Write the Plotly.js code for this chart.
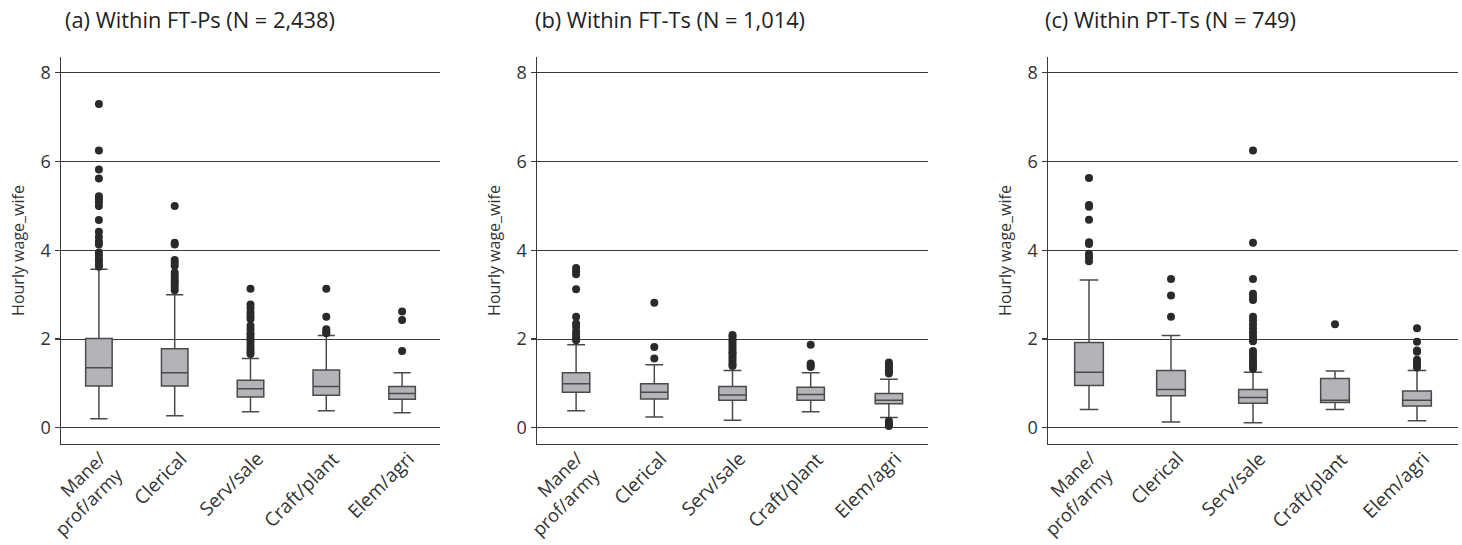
<!DOCTYPE html>
<html><head><meta charset="utf-8">
<script src="https://cdn.plot.ly/plotly-3.0.1.min.js"></script>
<style>html,body{margin:0;padding:0;background:#fff}#chart{width:1462px;height:545px}</style>
</head><body><div id="chart"></div>
<script>
// ---------- data ----------
const categories = ["Mane/<br>prof/army", "Clerical", "Serv/sale", "Craft/plant", "Elem/agri"];
const panelTitles = ["(a) Within FT-Ps (N = 2,438)", "(b) Within FT-Ts (N = 1,014)", "(c) Within PT-Ts (N = 749)"];
const yTitle = "Hourly wage_wife";
const yTicks = [0, 2, 4, 6, 8];

// (a) FT-Ps
const a_lowerfence = [0.20, 0.27, 0.36, 0.38, 0.34];
const a_q1         = [0.94, 0.94, 0.69, 0.73, 0.64];
const a_median     = [1.35, 1.24, 0.88, 0.93, 0.77];
const a_q3         = [2.01, 1.78, 1.07, 1.30, 0.93];
const a_upperfence = [3.57, 3.00, 1.56, 2.08, 1.24];
const a_out_mane   = [7.30, 6.25, 5.82, 5.62, 5.22, 5.15, 5.08, 5.00, 4.68, 4.42, 4.30, 4.20, 4.13, 3.95, 3.88, 3.80, 3.74, 3.68, 3.63];
const a_out_cler   = [5.00, 4.17, 4.13, 3.78, 3.72, 3.65, 3.50, 3.43, 3.36, 3.30, 3.24, 3.17, 3.10];
const a_out_serv   = [3.13, 2.78, 2.70, 2.60, 2.52, 2.45, 2.30, 2.22, 2.13, 2.07, 2.00, 1.93, 1.85, 1.78, 1.72, 1.66];
const a_out_craft  = [3.13, 2.50, 2.22, 2.16, 2.13];
const a_out_elem   = [2.62, 2.43, 1.73];

// (b) FT-Ts
const b_lowerfence = [0.38, 0.24, 0.17, 0.36, 0.23];
const b_q1         = [0.80, 0.65, 0.62, 0.62, 0.54];
const b_median     = [0.99, 0.80, 0.74, 0.75, 0.62];
const b_q3         = [1.24, 0.99, 0.93, 0.91, 0.77];
const b_upperfence = [1.87, 1.42, 1.29, 1.24, 1.09];
const b_out_mane   = [3.60, 3.53, 3.46, 3.12, 2.50, 2.35, 2.27, 2.17, 2.10, 2.03, 1.97];
const b_out_cler   = [2.82, 1.82, 1.56];
const b_out_serv   = [2.09, 2.05, 1.98, 1.93, 1.87, 1.82, 1.76, 1.70, 1.66, 1.60, 1.55, 1.49, 1.43, 1.39];
const b_out_craft  = [1.87, 1.45, 1.41, 1.37];
const b_out_elem   = [1.47, 1.42, 1.37, 1.32, 1.27, 1.22, 0.15, 0.11, 0.07, 0.04];

// (c) PT-Ts
const c_lowerfence = [0.41, 0.13, 0.11, 0.41, 0.16];
const c_q1         = [0.95, 0.72, 0.55, 0.57, 0.49];
const c_median     = [1.25, 0.86, 0.68, 0.62, 0.62];
const c_q3         = [1.92, 1.29, 0.86, 1.11, 0.83];
const c_upperfence = [3.33, 2.08, 1.25, 1.28, 1.29];
const c_out_mane   = [5.63, 5.02, 4.98, 4.69, 4.18, 4.14, 3.92, 3.84, 3.75];
const c_out_cler   = [3.35, 2.98, 2.50];
const c_out_serv   = [6.25, 4.17, 3.35, 3.02, 2.95, 2.88, 2.50, 2.42, 2.33, 2.24, 2.15, 2.07, 2.00, 1.95, 1.73, 1.66, 1.60, 1.52, 1.45, 1.39, 1.33];
const c_out_craft  = [2.33];
const c_out_elem   = [2.24, 1.94, 1.74, 1.71, 1.53, 1.47, 1.42, 1.36];

// ---------- build ----------
const FONT = "'Open Sans', Lato, sans-serif";
const panels = [
  {lf: a_lowerfence, q1: a_q1, med: a_median, q3: a_q3, uf: a_upperfence,
   out: [a_out_mane, a_out_cler, a_out_serv, a_out_craft, a_out_elem]},
  {lf: b_lowerfence, q1: b_q1, med: b_median, q3: b_q3, uf: b_upperfence,
   out: [b_out_mane, b_out_cler, b_out_serv, b_out_craft, b_out_elem]},
  {lf: c_lowerfence, q1: c_q1, med: c_median, q3: c_q3, uf: c_upperfence,
   out: [c_out_mane, c_out_cler, c_out_serv, c_out_craft, c_out_elem]}
];
const W = 1462, H = 545;
const xDomPx = [[61, 440], [537, 928], [1048, 1458]];
const yDom = [(H - 443.7) / H, (H - 57.3) / H];
const titleX = [63, 533, 1043];

const data = [];
const layout = {
  width: W, height: H,
  margin: {l: 0, r: 0, t: 0, b: 0},
  paper_bgcolor: "#fff", plot_bgcolor: "#fff",
  showlegend: false,
  boxgap: 0.5, boxmode: "overlay",
  font: {family: FONT, color: "#333"},
  annotations: []
};

panels.forEach((p, i) => {
  const sfx = i === 0 ? "" : String(i + 1);
  const xa = "x" + sfx, ya = "y" + sfx;
  data.push({
    type: "box", x: categories,
    q1: p.q1, median: p.med, q3: p.q3, lowerfence: p.lf, upperfence: p.uf,
    boxpoints: false,
    fillcolor: "#b4b4b8",
    line: {color: "#4a4a4a", width: 1.5},
    whiskerwidth: 0.65,
    xaxis: xa, yaxis: ya, hoverinfo: "skip"
  });
  const ox = [], oy = [];
  p.out.forEach((arr, k) => arr.forEach(v => { ox.push(categories[k]); oy.push(v); }));
  data.push({
    type: "scatter", mode: "markers", x: ox, y: oy,
    marker: {size: 8, color: "#2a2a2a"},
    xaxis: xa, yaxis: ya, hoverinfo: "skip"
  });
  layout["xaxis" + sfx] = {
    domain: [xDomPx[i][0] / W, xDomPx[i][1] / W],
    anchor: ya, type: "category",
    categoryorder: "array", categoryarray: categories,
    range: [-0.5, 4.5],
    showline: true, linecolor: "#3a3a3a", linewidth: 1.5,
    showgrid: false, zeroline: false, ticks: "",
    showticklabels: false
  };
  layout["yaxis" + sfx] = {
    domain: yDom, anchor: xa,
    range: [-0.36, 8.35],
    tickvals: yTicks, ticktext: yTicks.map(String),
    showline: true, linecolor: "#3a3a3a", linewidth: 1.5,
    showgrid: true, gridcolor: "#3a3a3a", gridwidth: 1,
    zeroline: false,
    ticks: "outside", ticklen: 5, tickcolor: "#3a3a3a", tickwidth: 1.2,
    tickfont: {family: FONT, size: 18, color: "#333"},
    title: {text: yTitle, font: {family: FONT, size: 16, color: "#333"}, standoff: 12}
  };
  // rotated category labels (right-aligned lines, like the reference)
  categories.forEach((c, k) => {
    const multi = c.indexOf("<br>") >= 0;
    layout.annotations.push({
      text: c, xref: xa, yref: "paper",
      x: k, y: (H - (multi ? 444 : 445)) / H,
      xanchor: "right", yanchor: "top",
      xshift: multi ? 31 : 19,
      textangle: -45, align: "right",
      showarrow: false, borderpad: 0,
      font: {family: FONT, size: multi ? 18.2 : 19, color: "#333"}
    });
  });
  layout.annotations.push({
    text: panelTitles[i], xref: "paper", yref: "paper",
    x: titleX[i] / W, y: 1 - 19 / H, xanchor: "left", yanchor: "middle",
    showarrow: false, font: {family: FONT, size: 21.8, color: "#222"}
  });
});

Plotly.newPlot("chart", data, layout, {staticPlot: true, displayModeBar: false});
</script>
</body></html>
